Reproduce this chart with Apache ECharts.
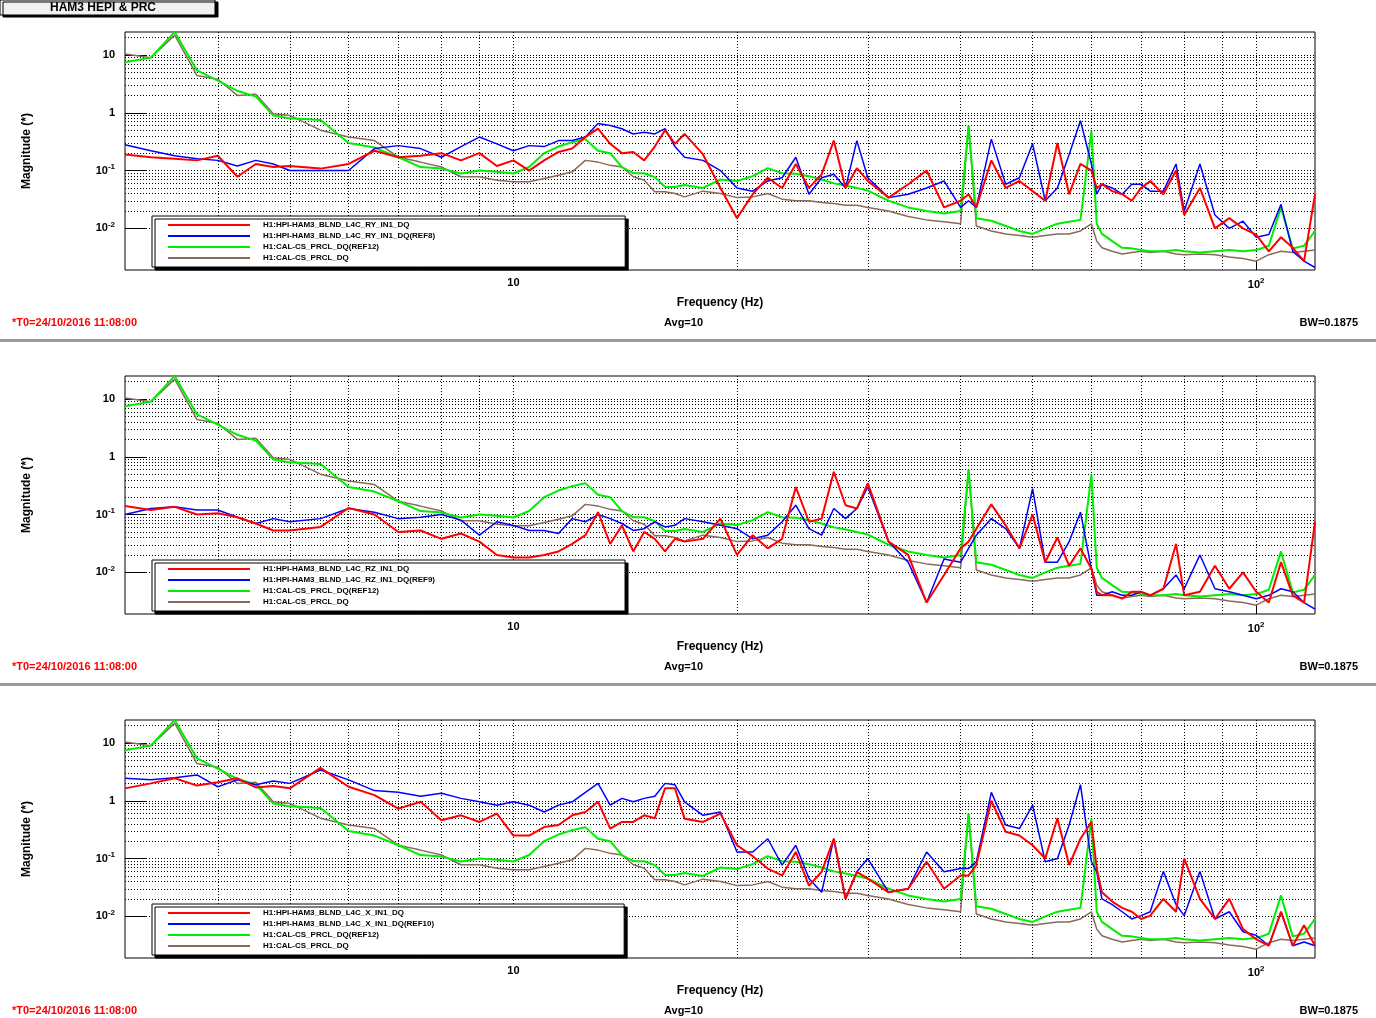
<!DOCTYPE html>
<html>
<head>
<meta charset="utf-8">
<script src="https://cdn.jsdelivr.net/npm/echarts@6/dist/echarts.min.js"></script>
<style>
html,body{margin:0;padding:0;background:#fff;}
#main{width:1376px;height:1018px;}
</style>
</head>
<body>
<div id="main"></div>
<script>
// frequency bins (Hz)
var freq = [3,3.25,3.5,3.75,4,4.25,4.5,4.75,5,5.5,
	6,6.5,7,7.5,8,8.5,9,9.5,10,10.5,
	11,11.5,12,12.5,13,13.5,14,14.5,15,15.5,
	16,16.5,17,18,19,20,21,22,23,24,
	25,26,27,28,29,30,32,34,36,38,
	40,41,42,44,46,48,50,52,54,56,
	58,60,61,62,64,66,68,70,72,75,
	78,80,84,88,92,96,100,104,108,112,
	116,120];

// H1:CAL-CS_PRCL_DQ(REF12)
var prclRef = [7.5,9,25,5.4,3.6,2.4,1.9,0.9,0.8,0.75,
	0.3,0.25,0.17,0.115,0.108,0.089,0.1,0.095,0.089,0.115,
	0.2,0.26,0.31,0.35,0.22,0.2,0.115,0.09,0.09,0.077,
	0.052,0.052,0.056,0.05,0.07,0.066,0.08,0.11,0.09,0.088,
	0.08,0.07,0.06,0.055,0.05,0.045,0.03,0.023,0.02,0.018,
	0.02,0.6,0.015,0.0135,0.011,0.009,0.008,0.01,0.012,0.013,
	0.014,0.49,0.012,0.008,0.006,0.0046,0.0045,0.0042,0.004,0.004,
	0.0042,0.004,0.0038,0.004,0.0042,0.004,0.0042,0.005,0.023,0.0045,
	0.005,0.009];
// H1:CAL-CS_PRCL_DQ
var prclNow = [10.4,9,22,4.4,3.8,2.0,2.1,0.96,0.9,0.5,
	0.38,0.33,0.17,0.14,0.115,0.078,0.078,0.068,0.064,0.064,
	0.073,0.083,0.095,0.15,0.14,0.123,0.115,0.078,0.068,0.043,
	0.043,0.04,0.035,0.044,0.04,0.034,0.035,0.04,0.032,0.03,
	0.03,0.028,0.027,0.025,0.025,0.023,0.02,0.016,0.014,0.013,
	0.012,0.6,0.011,0.009,0.008,0.0075,0.007,0.0075,0.008,0.008,
	0.009,0.012,0.006,0.0046,0.004,0.0036,0.0038,0.004,0.0038,0.004,
	0.0036,0.0035,0.0036,0.0035,0.0032,0.003,0.0027,0.0035,0.004,0.0038,
	0.004,0.0042];

// RY
var ryNow = [0.19,0.17,0.16,0.15,0.18,0.078,0.13,0.115,0.12,0.108,
	0.13,0.22,0.17,0.18,0.2,0.15,0.2,0.12,0.15,0.1,
	0.15,0.21,0.24,0.38,0.53,0.29,0.2,0.21,0.15,0.26,
	0.5,0.29,0.43,0.19,0.05,0.015,0.039,0.075,0.05,0.13,
	0.05,0.086,0.33,0.05,0.11,0.066,0.034,0.058,0.1,0.023,
	0.03,0.039,0.023,0.15,0.05,0.066,0.044,0.03,0.3,0.039,
	0.13,0.1,0.05,0.058,0.044,0.039,0.03,0.05,0.066,0.039,
	0.1,0.017,0.05,0.01,0.015,0.01,0.0078,0.004,0.007,0.0046,
	0.0027,0.039];
var ryRef = [0.28,0.22,0.18,0.16,0.15,0.12,0.15,0.13,0.1,0.1,
	0.1,0.24,0.27,0.24,0.17,0.26,0.38,0.29,0.22,0.27,
	0.26,0.33,0.33,0.38,0.65,0.6,0.53,0.43,0.46,0.43,
	0.53,0.26,0.17,0.15,0.1,0.05,0.044,0.066,0.075,0.17,
	0.039,0.075,0.086,0.05,0.33,0.075,0.034,0.039,0.05,0.066,
	0.023,0.03,0.023,0.35,0.058,0.075,0.29,0.03,0.05,0.19,
	0.73,0.13,0.039,0.058,0.05,0.039,0.058,0.058,0.044,0.044,
	0.13,0.02,0.13,0.017,0.01,0.0133,0.007,0.0078,0.026,0.004,
	0.0027,0.0021];

// RZ
var rzNow = [0.14,0.12,0.136,0.1,0.105,0.09,0.07,0.053,0.053,0.061,
	0.13,0.1,0.05,0.053,0.038,0.047,0.034,0.02,0.018,0.018,
	0.02,0.023,0.031,0.044,0.11,0.031,0.065,0.023,0.05,0.038,
	0.023,0.038,0.034,0.038,0.085,0.02,0.044,0.026,0.038,0.3,
	0.075,0.085,0.55,0.145,0.127,0.35,0.034,0.02,0.003,0.009,
	0.026,0.034,0.057,0.15,0.065,0.026,0.1,0.015,0.04,0.013,
	0.026,0.0115,0.0046,0.004,0.004,0.0035,0.0046,0.0046,0.004,0.0052,
	0.031,0.004,0.0046,0.013,0.0052,0.01,0.0046,0.003,0.015,0.004,
	0.003,0.075];
var rzRef = [0.1,0.127,0.136,0.12,0.12,0.09,0.07,0.085,0.075,0.085,
	0.127,0.11,0.085,0.09,0.1,0.08,0.044,0.075,0.065,0.053,
	0.053,0.047,0.085,0.075,0.1,0.085,0.07,0.053,0.057,0.075,
	0.061,0.065,0.085,0.075,0.065,0.057,0.038,0.044,0.075,0.145,
	0.057,0.044,0.127,0.085,0.127,0.3,0.034,0.015,0.003,0.017,
	0.015,0.026,0.044,0.085,0.057,0.026,0.28,0.015,0.015,0.034,
	0.11,0.0115,0.004,0.004,0.0046,0.004,0.004,0.0046,0.004,0.0052,
	0.009,0.0052,0.02,0.0052,0.0046,0.004,0.0035,0.004,0.0052,0.0046,
	0.003,0.0023];

// X
var xNow = [1.64,2.0,2.45,1.83,2.1,2.45,1.7,1.8,1.64,3.7,
	1.75,1.25,0.73,0.96,0.46,0.56,0.43,0.6,0.25,0.25,
	0.35,0.38,0.56,0.64,0.96,0.33,0.43,0.43,0.56,0.5,
	1.64,1.64,0.49,0.43,0.6,0.17,0.11,0.067,0.051,0.13,
	0.034,0.059,0.22,0.02,0.059,0.045,0.026,0.03,0.088,0.03,
	0.051,0.051,0.077,1.0,0.29,0.25,0.17,0.1,0.5,0.077,
	0.22,0.43,0.067,0.026,0.018,0.014,0.012,0.009,0.0103,0.02,
	0.012,0.1,0.02,0.009,0.02,0.006,0.004,0.0031,0.012,0.0031,
	0.007,0.0031];
var xRef = [2.45,2.3,2.5,2.8,1.75,2.3,1.9,2.2,2.0,3.4,
	2.3,1.5,1.4,1.2,1.35,1.1,0.96,0.84,0.96,0.84,
	0.64,0.84,0.96,1.4,2.0,0.84,1.1,0.96,1.1,1.2,
	2.0,1.9,0.96,0.56,0.64,0.13,0.13,0.22,0.077,0.17,
	0.045,0.026,0.22,0.02,0.059,0.1,0.026,0.03,0.13,0.059,
	0.067,0.067,0.088,1.4,0.38,0.33,0.84,0.088,0.1,0.38,
	1.9,0.088,0.059,0.02,0.016,0.012,0.009,0.0103,0.012,0.06,
	0.016,0.0103,0.06,0.009,0.012,0.0054,0.0047,0.0031,0.012,0.0031,
	0.0036,0.0031];

var panels = [
	{top: 32, now: ryNow, ref: ryRef, nowName: 'H1:HPI-HAM3_BLND_L4C_RY_IN1_DQ', refName: 'H1:HPI-HAM3_BLND_L4C_RY_IN1_DQ(REF8)'},
	{top: 376, now: rzNow, ref: rzRef, nowName: 'H1:HPI-HAM3_BLND_L4C_RZ_IN1_DQ', refName: 'H1:HPI-HAM3_BLND_L4C_RZ_IN1_DQ(REF9)'},
	{top: 720, now: xNow, ref: xRef, nowName: 'H1:HPI-HAM3_BLND_L4C_X_IN1_DQ', refName: 'H1:HPI-HAM3_BLND_L4C_X_IN1_DQ(REF10)'}
];
var prclRefName = 'H1:CAL-CS_PRCL_DQ(REF12)';
var prclNowName = 'H1:CAL-CS_PRCL_DQ';

// dotted grid positions
var gridX = [4,5,6,7,8,9,10,20,30,40,50,60,70,80,90,100];
var gridY = [];
[0.001,0.01,0.1,1,10].forEach(function(d){
	for (var k = 1; k < 10; k++) {
		var v = k * d;
		if (v > 0.0019 && v < 25) gridY.push(+v.toPrecision(2));
	}
});

var FONT = 'Liberation Sans';
var PH = 238;

function pair(vals){
	var res = [];
	for (var i = 0; i < freq.length; i++) res.push([freq[i], vals[i]]);
	return res;
}

function logLabel(v){
	var p = Math.round(Math.log10(v));
	if (Math.abs(Math.log10(v) - p) > 0.01) return '';
	if (p == 0) return '1';
	if (p == 1) return '10';
	return '10{s|' + p + '}';
}

var option = {
	backgroundColor: '#fff',
	animation: false,
	textStyle: {fontFamily: FONT},
	grid: [], xAxis: [], yAxis: [], series: [], legend: [],
	graphic: []
};

panels.forEach(function(p, i){
	option.grid.push({left: 125, top: p.top, width: 1190, height: PH, show: true,
		borderColor: '#000', borderWidth: 1, backgroundColor: 'transparent'});
	option.xAxis.push({
		type: 'log', gridIndex: i, min: 3, max: 120,
		name: 'Frequency (Hz)', nameLocation: 'middle', nameGap: 27,
		nameTextStyle: {fontSize: 12, fontWeight: 'bold', color: '#000'},
		axisLine: {show: false},
		axisTick: {show: true, inside: true, length: 10, lineStyle: {color: '#000'}},
		splitLine: {show: false},
		axisLabel: {formatter: logLabel, color: '#000', fontSize: 11, fontWeight: 'bold', margin: 7,
			showMinLabel: false, showMaxLabel: false,
			rich: {s: {fontSize: 8, fontWeight: 'bold', verticalAlign: 'top', padding: [0, 0, 8, 0]}}}
	});
	option.yAxis.push({
		type: 'log', gridIndex: i, min: 0.0019, max: 25,
		name: 'Magnitude (*)', nameLocation: 'middle', nameGap: 92,
		nameTextStyle: {fontSize: 12, fontWeight: 'bold', color: '#000'},
		axisLine: {show: false},
		axisTick: {show: true, inside: true, length: 22, lineStyle: {color: '#000'}},
		splitLine: {show: false},
		axisLabel: {formatter: logLabel, color: '#000', fontSize: 11, fontWeight: 'bold', margin: 10,
			showMinLabel: false, showMaxLabel: false,
			rich: {s: {fontSize: 8, fontWeight: 'bold', verticalAlign: 'top', padding: [0, 0, 8, 0]}}}
	});

	// dotted grid
	var ml = [];
	gridX.forEach(function(v){ ml.push({xAxis: v}); });
	gridY.forEach(function(v){ ml.push({yAxis: v}); });
	option.series.push({
		type: 'line', xAxisIndex: i, yAxisIndex: i, data: [[10, 1]], showSymbol: false,
		lineStyle: {opacity: 0}, silent: true, z: 1,
		markLine: {silent: true, symbol: 'none', label: {show: false}, animation: false, z: 1,
			lineStyle: {color: '#000', type: [1, 2], width: 1}, data: ml}
	});

	var defs = [
		[prclNowName, prclNow, '#8a6a5a', 1.5],
		[prclRefName, prclRef, '#00ee00', 2],
		[p.refName, p.ref, '#0000ff', 1.5],
		[p.nowName, p.now, '#ff0000', 2]
	];
	defs.forEach(function(d){
		option.series.push({
			name: d[0], type: 'line', xAxisIndex: i, yAxisIndex: i,
			data: pair(d[1]), showSymbol: false, symbol: 'none', z: 3,
			color: d[2], lineStyle: {color: d[2], width: d[3]}
		});
	});

	option.legend.push({
		data: [p.nowName, p.refName, prclRefName, prclNowName],
		left: 152, top: p.top + 184, orient: 'vertical', z: 20,
		icon: 'rect', itemWidth: 82, itemHeight: 2, itemGap: 3,
		padding: [5, 190, 5, 16],
		backgroundColor: '#fff', borderColor: '#000', borderWidth: 1,
		shadowColor: '#000', shadowOffsetX: 3, shadowOffsetY: 3, shadowBlur: 0,
		selectedMode: false,
		textStyle: {fontSize: 8, fontWeight: 'bold', color: '#000', fontFamily: FONT, padding: [0, 0, 0, 8]}
	});

	var ty = p.top + 291;
	option.graphic.push(
		{type: 'text', left: 12, top: ty - 6, style: {text: '*T0=24/10/2016 11:08:00', fill: '#ff0000', font: 'bold 11px ' + FONT}},
		{type: 'text', left: 664, top: ty - 6, style: {text: 'Avg=10', fill: '#000', font: 'bold 11px ' + FONT}},
		{type: 'text', right: 18, top: ty - 6, style: {text: 'BW=0.1875', fill: '#000', font: 'bold 11px ' + FONT}}
	);
});

// pad separators and title box
option.graphic.push(
	{type: 'rect', shape: {x: 0, y: 339, width: 1376, height: 3}, style: {fill: '#9a9a9a'}},
	{type: 'rect', shape: {x: 0, y: 683, width: 1376, height: 3}, style: {fill: '#9a9a9a'}},
	{type: 'rect', shape: {x: 0, y: 0, width: 215, height: 15}, style: {fill: '#f0f0f0', stroke: '#000', lineWidth: 1,
		shadowColor: '#000', shadowOffsetX: 3, shadowOffsetY: 2, shadowBlur: 0}},
	{type: 'text', left: 50, top: 2, style: {text: 'HAM3 HEPI & PRC', fill: '#000', font: 'bold 12px ' + FONT}}
);

var myChart = echarts.init(document.getElementById('main'));
myChart.setOption(option);
</script>
</body>
</html>
